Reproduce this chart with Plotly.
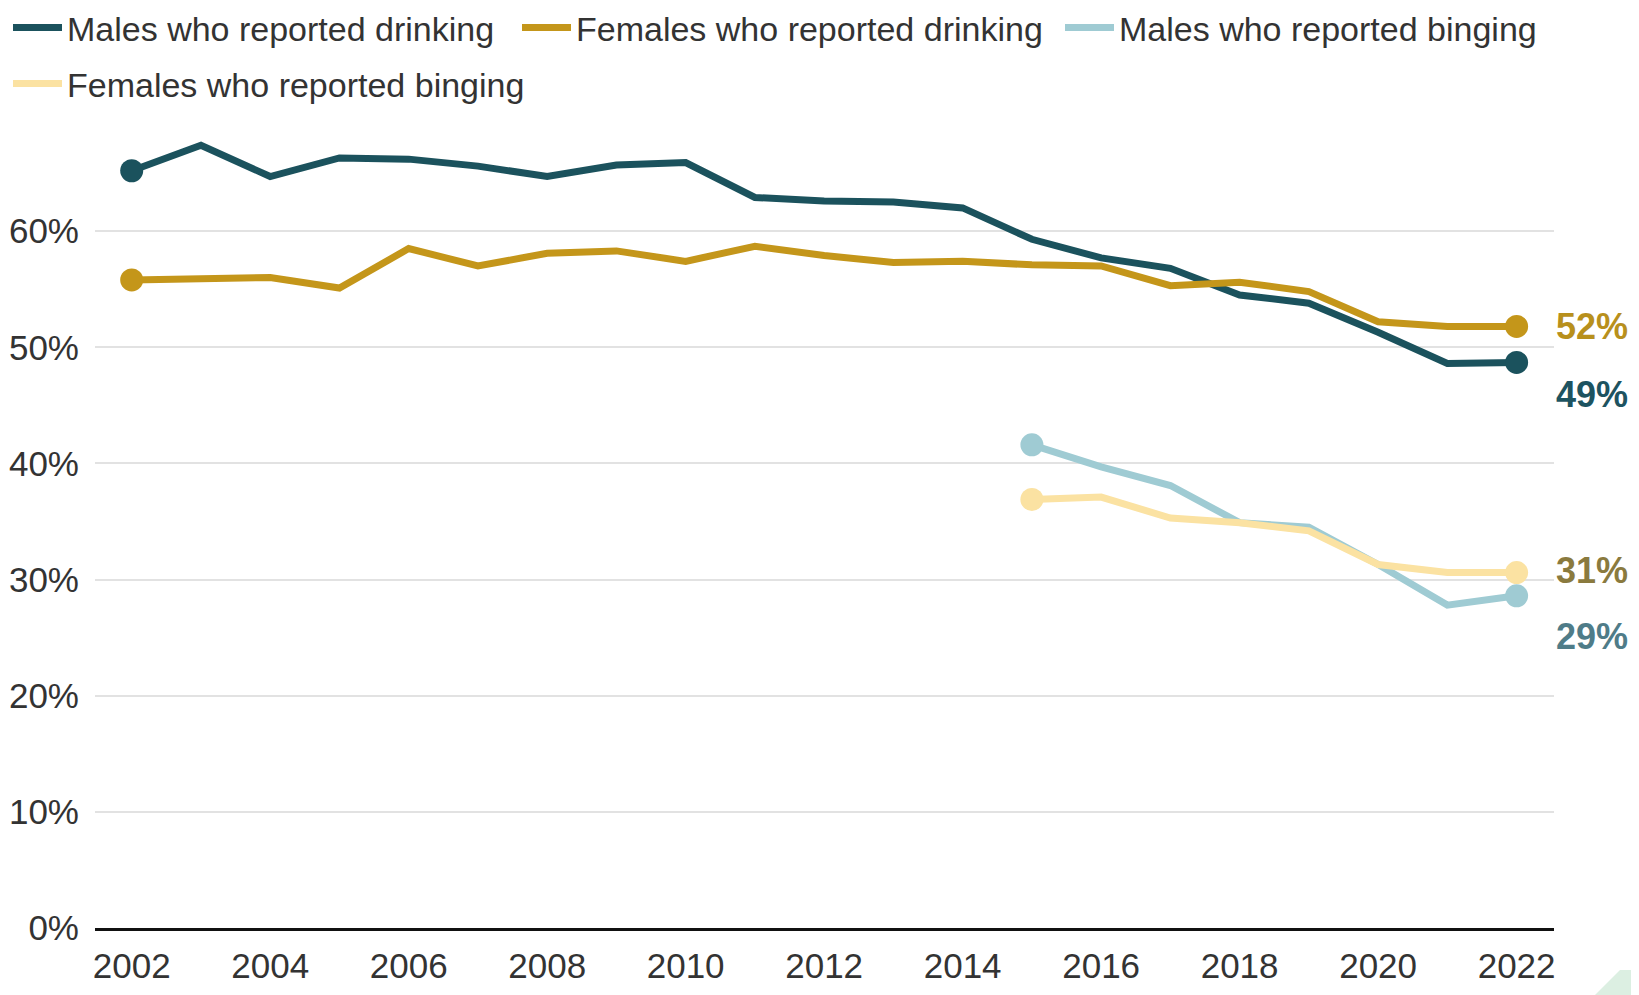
import plotly.graph_objects as go

years = list(range(2002, 2023))
years_binge = list(range(2015, 2023))

males_drinking = [65.2, 67.4, 64.7, 66.3, 66.2, 65.6, 64.7, 65.7, 65.9, 62.9, 62.6,
                  62.5, 62.0, 59.3, 57.7, 56.8, 54.5, 53.8, 51.3, 48.6, 48.7]
females_drinking = [55.8, 55.9, 56.0, 55.1, 58.5, 57.0, 58.1, 58.3, 57.4, 58.7, 57.9,
                    57.3, 57.4, 57.1, 57.0, 55.3, 55.6, 54.8, 52.2, 51.8, 51.8]
males_binging = [41.6, 39.7, 38.1, 34.9, 34.5, 31.3, 27.8, 28.6]
females_binging = [36.9, 37.1, 35.3, 34.9, 34.2, 31.3, 30.6, 30.6]

series_names = ["Males who reported drinking", "Females who reported drinking",
                "Males who reported binging", "Females who reported binging"]
end_labels = ["49%", "52%", "29%", "31%"]
y_ticks = [0, 10, 20, 30, 40, 50, 60]
y_tick_labels = ["0%", "10%", "20%", "30%", "40%", "50%", "60%"]
x_ticks = list(range(2002, 2023, 2))

colors = ["#1b525d", "#c4961a", "#9fcbd3", "#fbe2a2"]
label_colors = ["#1d5360", "#b8901c", "#4f7c88", "#8a7a3e"]
label_offsets = [-2.8, 0.0, -3.5, 0.2]

FONT = "Liberation Sans, Arial, sans-serif"

W, H = 1639, 995
L, R, T, B = 87, 93, 107, 75
PW = W - L - R
PH = H - T - B
SHIFT = 8  # page body offset of the drawn figure

# legend entry placement (screenshot pixels: left of symbol, row centre)
legend_pos = [(13, 28), (523, 28), (1066, 28), (13, 84)]
legend_ids = ["legend", "legend2", "legend3", "legend4"]


def px_x(px):
    return (px - SHIFT - L) / PW


def px_y(py):
    return (H - B - (py - SHIFT)) / PH


fig = go.Figure()
data = [(years, males_drinking), (years, females_drinking),
        (years_binge, males_binging), (years_binge, females_binging)]

for (xs, ys), name, col, lg in zip(data, series_names, colors, legend_ids):
    fig.add_trace(go.Scatter(x=xs, y=ys, mode="lines", name=name, legend=lg,
                             line=dict(color=col, width=7), hoverinfo="skip"))

for (xs, ys), col in zip(data, colors):
    fig.add_trace(go.Scatter(x=[xs[0], xs[-1]], y=[ys[0], ys[-1]], mode="markers",
                             marker=dict(color=col, size=23), showlegend=False,
                             hoverinfo="skip"))

for (xs, ys), txt, col, off in zip(data, end_labels, label_colors, label_offsets):
    fig.add_annotation(x=1, xref="paper", xanchor="left", xshift=0,
                       y=ys[-1] + off, yref="y", yanchor="middle",
                       text=f"<b>{txt}</b>", showarrow=False,
                       font=dict(family=FONT, size=36, color=col))

# decorative corner piece from the screenshot
fig.add_shape(type="path", xref="paper", yref="paper",
              path="M %f %f L %f %f L %f %f L %f %f Z" % (
                  px_x(1590), px_y(1000), px_x(1620), px_y(970),
                  px_x(1650), px_y(970), px_x(1650), px_y(1000)),
              fillcolor="#dcefe2", line=dict(width=0), layer="above")

legend_common = dict(orientation="h", xref="container", yref="container",
                     xanchor="left", yanchor="middle",
                     font=dict(family=FONT, size=34, color="#333333"),
                     itemwidth=49, bgcolor="rgba(0,0,0,0)", borderwidth=0)

legends = {}
for lg, (lx, ly) in zip(legend_ids, legend_pos):
    legends[lg] = dict(x=max(lx - SHIFT - 6, 0) / W, y=1 - (ly - SHIFT) / H,
                       **legend_common)

fig.update_layout(
    width=W, height=H,
    margin=dict(l=L, r=R, t=T, b=B),
    paper_bgcolor="white", plot_bgcolor="white",
    font=dict(family=FONT, size=35, color="#333333"),
    showlegend=True,
    xaxis=dict(range=[2001.47, 2022.54], tickvals=x_ticks, showgrid=False,
               showline=True, linecolor="#111111", linewidth=3,
               ticks="", ticklabelstandoff=5, zeroline=False, automargin=False,
               tickfont=dict(family=FONT, size=35, color="#333333")),
    yaxis=dict(range=[0, 70], tickvals=y_ticks, ticktext=y_tick_labels,
               showgrid=True, gridcolor="#e2e2e2", gridwidth=2, automargin=False,
               zeroline=False, showline=False, ticks="", ticklabelstandoff=15,
               tickfont=dict(family=FONT, size=35, color="#333333")),
    **legends,
)

fig.write_html("out.html")
